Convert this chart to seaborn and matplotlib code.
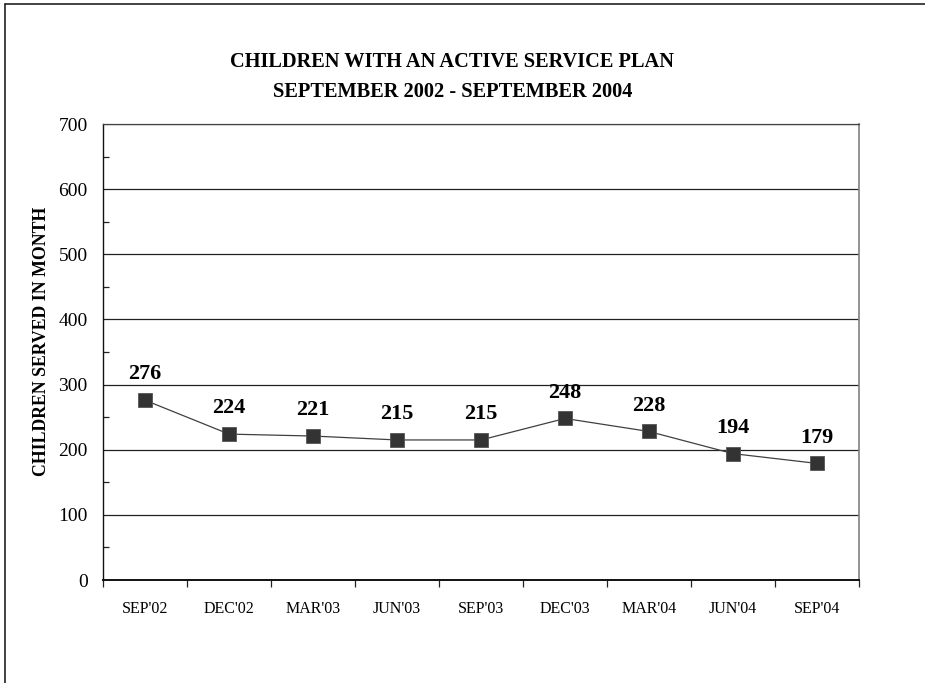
import matplotlib
matplotlib.use("Agg")
import matplotlib.pyplot as plt
from matplotlib.lines import Line2D
from matplotlib.ticker import MultipleLocator, FixedLocator
import seaborn as sns
import pandas as pd
import numpy as np

months = ["SEP'02", "DEC'02", "MAR'03", "JUN'03", "SEP'03", "DEC'03", "MAR'04", "JUN'04", "SEP'04"]
children = [276, 224, 221, 215, 215, 248, 228, 194, 179]
title_lines = ["CHILDREN WITH AN ACTIVE SERVICE PLAN", "SEPTEMBER 2002 - SEPTEMBER 2004"]
y_label = "CHILDREN SERVED IN MONTH"

sns.set_style("white")
plt.rcParams['font.family'] = ['Liberation Serif', 'DejaVu Serif']
plt.rcParams['text.color'] = 'black'
plt.rcParams['axes.labelcolor'] = 'black'
plt.rcParams['xtick.color'] = 'black'
plt.rcParams['ytick.color'] = 'black'

df = pd.DataFrame({"pos": np.arange(len(months)), "value": children})

fig = plt.figure(figsize=(9.25, 6.83), dpi=100)
ax = fig.add_axes([0.1114, 0.1508, 0.9286 - 0.1114, 0.8184 - 0.1508])

sns.lineplot(data=df, x="pos", y="value", ax=ax, color="#404040", linewidth=0.9,
             marker="s", markersize=10.5, markerfacecolor="#333333",
             markeredgecolor="#555555", markeredgewidth=0.6)

ax.set_xlim(-0.5, len(months) - 0.5)
ax.set_ylim(0, 700)

ax.yaxis.set_major_locator(MultipleLocator(100))
ax.yaxis.set_minor_locator(MultipleLocator(50))
ax.grid(axis="y", which="major", color="#222222", linewidth=0.9)
ax.set_axisbelow(True)

ax.set_xticks(np.arange(len(months)))
ax.set_xticklabels(months, fontsize=11.5)
ax.xaxis.set_minor_locator(FixedLocator(np.arange(len(months) + 1) - 0.5))
ax.tick_params(axis="x", which="major", length=0, pad=15)
ax.tick_params(axis="x", which="minor", length=5, direction="out", width=0.9, color="#222222")
ax.tick_params(axis="y", which="major", length=5, direction="out", width=0.9, labelsize=14, pad=6, color="#222222")
ax.tick_params(axis="y", which="minor", length=4, direction="in", width=0.9, color="#222222")
ax.tick_params(axis="y", which="minor", left=True)
ax.tick_params(axis="x", which="minor", bottom=True)

ax.spines["left"].set_color("#111111")
ax.spines["left"].set_linewidth(1.0)
ax.spines["bottom"].set_color("#111111")
ax.spines["bottom"].set_linewidth(1.4)
ax.spines["top"].set_color("#444444")
ax.spines["top"].set_linewidth(0.9)
ax.spines["right"].set_color("#808080")
ax.spines["right"].set_linewidth(1.2)

ax.set_xlabel("")
ax.set_ylabel(y_label, fontsize=12.8, fontweight="bold", va="center")
ax.yaxis.set_label_coords(-0.082, 0.524)

for i, v in enumerate(children):
    ax.annotate(str(v), xy=(i, v), xytext=(0, 15), textcoords="offset points",
                ha="center", va="baseline", fontsize=16, fontweight="bold")

fig.text(0.489, 0.909, title_lines[0], ha="center", va="center", fontsize=14.7, fontweight="bold")
fig.text(0.489, 0.865, title_lines[1], ha="center", va="center", fontsize=14.7, fontweight="bold")

fig.add_artist(Line2D([0.005, 0.005], [0, 0.994], transform=fig.transFigure, color="#222222", linewidth=1.2))
fig.add_artist(Line2D([0.005, 1.0], [0.994, 0.994], transform=fig.transFigure, color="#222222", linewidth=1.2))

fig.savefig("out.png", dpi=100, facecolor="white")
